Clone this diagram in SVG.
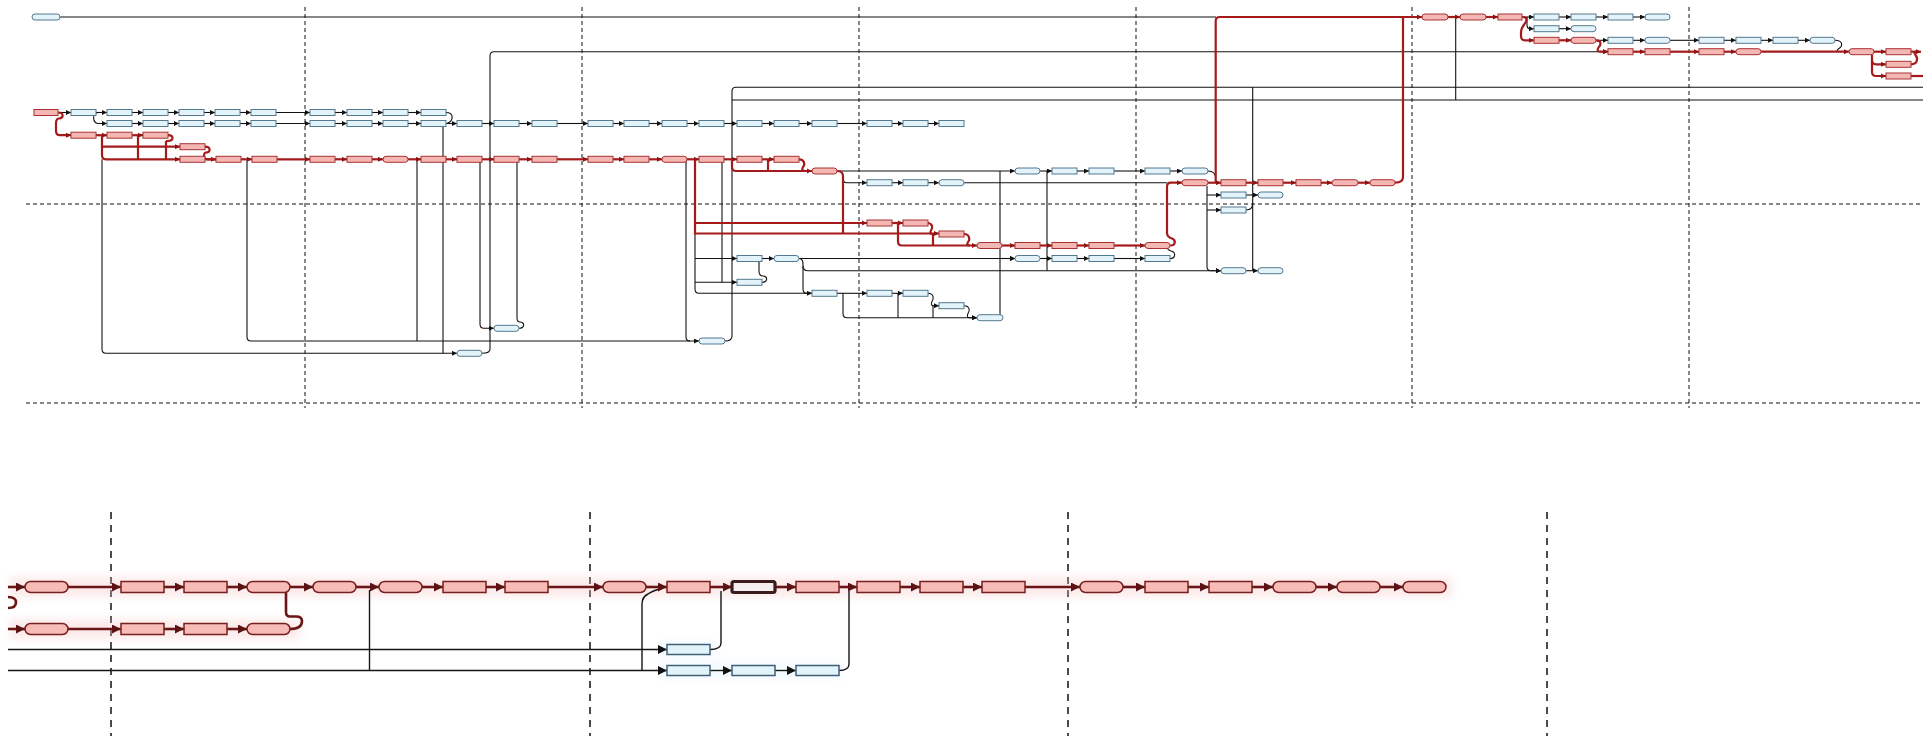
<svg xmlns="http://www.w3.org/2000/svg" width="1923" height="736" viewBox="0 0 1923 736">
<style>
.b{fill:#e2f3fa;stroke:#55798f;stroke-width:1}
.r{fill:#f5b7b3;stroke:#a83232;stroke-width:1}
.lb{fill:#e2f3fa;stroke:#3f6078;stroke-width:1.5}
.lr{fill:#f7bcb8;stroke:#7a1f1f;stroke-width:1.5}
.hl{fill:#f4eeee;stroke:#3a1c1c;stroke-width:3.2}
.k{fill:none;stroke:#111;stroke-width:1.1}
.rd{fill:none;stroke:#a51b1b;stroke-width:2.2}
.ka{marker-end:url(#ak)}
.ra{marker-end:url(#ar)}
.lk{fill:none;stroke:#151515;stroke-width:1.4}
.lrd{fill:none;stroke:#6a1616;stroke-width:2.6}
.lka{marker-end:url(#lak)}
.lra{marker-end:url(#lar)}
.g1{fill:none;stroke:#111;stroke-width:1;stroke-dasharray:4 3}
.g2{fill:none;stroke:#111;stroke-width:1.5;stroke-dasharray:7 6}
</style>
<defs>
<marker id="ak" viewBox="0 0 10 10" refX="10" refY="5" markerWidth="5" markerHeight="5" markerUnits="userSpaceOnUse" orient="auto"><path d="M0,0L10,5L0,10z" fill="#111"/></marker>
<marker id="ar" viewBox="0 0 10 10" refX="10" refY="5" markerWidth="5.5" markerHeight="5.5" markerUnits="userSpaceOnUse" orient="auto"><path d="M0,0L10,5L0,10z" fill="#8e1414"/></marker>
<marker id="lak" viewBox="0 0 10 10" refX="10" refY="5" markerWidth="9" markerHeight="9" markerUnits="userSpaceOnUse" orient="auto"><path d="M0,0L10,5L0,10z" fill="#111"/></marker>
<marker id="lar" viewBox="0 0 10 10" refX="10" refY="5" markerWidth="9" markerHeight="9" markerUnits="userSpaceOnUse" orient="auto"><path d="M0,0L10,5L0,10z" fill="#5a1212"/></marker>
<filter id="glow" x="-5%" y="-100%" width="110%" height="300%"><feGaussianBlur stdDeviation="4"/></filter>
</defs>
<rect width="1923" height="736" fill="#fff"/>
<g id="grid">
<path class="g1" d="M305,7V408M582,7V408M859,7V408M1136,7V408M1412,7V408M1689,7V408"/>
<path class="g1" d="M26,204H1923M26,403H1923" stroke-dasharray="5 3"/>
<path class="g2" d="M111,512V736M590,512V736M1068,512V736M1547,512V736"/>
</g>
<g id="glowband" filter="url(#glow)" opacity="0.35">
<path d="M10,587H1452M10,629H300" stroke="#f7c2c2" stroke-width="20" fill="none"/>
<path d="M660,649.5H716M660,670.5H842" stroke="#dcefff" stroke-width="16" fill="none"/>
</g>
<g id="connectors">
<path class="k" d="M60,17H1216"/>
<path class="k ka" d="M58,112.5H71"/>
<path class="k ka" d="M96,112.5H107"/><path class="k ka" d="M132,112.5H143"/><path class="k ka" d="M168,112.5H179"/><path class="k ka" d="M204,112.5H215"/><path class="k ka" d="M240,112.5H251"/><path class="k ka" d="M276,112.5H310"/><path class="k ka" d="M335,112.5H347"/><path class="k ka" d="M372,112.5H383"/><path class="k ka" d="M408,112.5H421"/>
<path class="k" d="M446,112.5C454,112.5 454,121 447,123.5"/>
<path class="k ka" d="M98,112.5C92,113 92,123.5 99,123.5H107"/>
<path class="k ka" d="M132,123.5H143"/><path class="k ka" d="M168,123.5H179"/><path class="k ka" d="M204,123.5H215"/><path class="k ka" d="M240,123.5H251"/><path class="k ka" d="M276,123.5H310"/><path class="k ka" d="M335,123.5H347"/><path class="k ka" d="M372,123.5H383"/><path class="k ka" d="M408,123.5H421"/><path class="k ka" d="M446,123.5H457"/><path class="k ka" d="M482,123.5H494"/><path class="k ka" d="M519,123.5H532"/><path class="k ka" d="M557,123.5H588"/><path class="k ka" d="M613,123.5H624"/><path class="k ka" d="M649,123.5H662"/><path class="k ka" d="M687,123.5H699"/><path class="k ka" d="M724,123.5H737"/><path class="k ka" d="M762,123.5H774"/><path class="k ka" d="M799,123.5H812"/><path class="k ka" d="M837,123.5H867"/><path class="k ka" d="M892,123.5H903"/><path class="k ka" d="M928,123.5H939"/>
<path class="k ka" d="M102,159.3V349Q102,353.3 106,353.3H457"/>
<path class="k ka" d="M247,159.3V337Q247,341 251,341H699"/>
<path class="k" d="M417,159.3V341"/>
<path class="k" d="M443,123.5V353.3"/>
<path class="k ka" d="M480,159.3V324Q480,328.3 484,328.3H494"/>
<path class="k" d="M519,328.3C525,328.3 525,322 520,322Q517,322 517,318V159.3"/>
<path class="k ka" d="M482,353.3Q490,353.3 490,349V56Q490,51.7 494,51.7H1608"/>
<path class="k" d="M686,159.3V337Q686,341 690,341"/>
<path class="k ka" d="M695,233.5V289Q695,293.3 699,293.3H812"/>
<path class="k ka" d="M695,258.5H737"/>
<path class="k ka" d="M695,282.3H737"/>
<path class="k" d="M722,159.3V282.3"/>
<path class="k" d="M762,282.3C768,282.3 768,276 763,276Q759,276 759,271V261.5"/>
<path class="k ka" d="M762,258.5H774"/>
<path class="k ka" d="M799,258.5H1015"/>
<path class="k ka" d="M799,258.5C803,258.5 803,262 803,266Q803,270.7 808,270.7H1221"/>
<path class="k" d="M803,266V289Q803,293.3 807,293.3H812"/>
<path class="k" d="M725,341Q732,341 732,336V91.3Q732,87.3 736,87.3H1923"/>
<path class="k" d="M732,100H1923"/>
<path class="k ka" d="M837,171H1015"/>
<path class="k ka" d="M1040,171H1052"/><path class="k ka" d="M1077,171H1089"/><path class="k ka" d="M1114,171H1145"/><path class="k ka" d="M1170,171H1182"/>
<path class="k" d="M1208,171C1213,171 1215.7,174 1215.7,179"/>
<path class="k ka" d="M843,176V178.7Q843,182.7 847,182.7H867"/>
<path class="k ka" d="M892,182.7H903"/><path class="k ka" d="M928,182.7H939"/>
<path class="k" d="M964,182.7H1167"/>
<path class="k" d="M1000,171V313Q1000,317.7 1003,317.7"/>
<path class="k" d="M1047,171V270.7"/>
<path class="k ka" d="M1000,258.5H1015"/>
<path class="k ka" d="M1040,258.5H1052"/><path class="k ka" d="M1077,258.5H1089"/><path class="k ka" d="M1114,258.5H1145"/>
<path class="k" d="M1170,258.5C1176,258.5 1176,252 1171,251Q1167,250 1167,246"/>
<path class="k ka" d="M1207,186V266.7Q1207,270.7 1211,270.7H1221"/>
<path class="k ka" d="M1207,195H1221"/><path class="k ka" d="M1207,210H1221"/>
<path class="k" d="M1252.7,87.3V270.7"/>
<path class="k ka" d="M1246,195H1258"/><path class="k ka" d="M1246,270.7H1258"/>
<path class="k" d="M1246,210C1251,210 1252.7,207 1252.7,203"/>
<path class="k" d="M1455.7,17V100"/>
<path class="k ka" d="M1522,17H1534"/><path class="k ka" d="M1559,17H1571"/><path class="k ka" d="M1596,17H1608"/><path class="k ka" d="M1633,17H1645"/>
<path class="k ka" d="M1527,17V24.7Q1527,28.7 1530,28.7H1534"/><path class="k ka" d="M1559,28.7H1571"/>
<path class="k ka" d="M1596,40.3H1608"/><path class="k ka" d="M1633,40.3H1645"/><path class="k ka" d="M1670,40.3H1699"/><path class="k ka" d="M1724,40.3H1736"/><path class="k ka" d="M1761,40.3H1773"/><path class="k ka" d="M1798,40.3H1810"/>
<path class="k" d="M1835,40.3C1843,40.3 1843,46 1839,48.5Q1836,50.5 1838,51.7"/>
<path class="k ka" d="M837,293.3H867"/><path class="k ka" d="M892,293.3H903"/>
<path class="k ka" d="M843,293.3V313.7Q843,317.7 847,317.7H977"/>
<path class="k" d="M898,293.3V317.7"/><path class="k" d="M933,305.7V317.7"/>
<path class="k ka" d="M928,293.3C934,293.3 934,299 932,301.5Q930,305.7 934,305.7H939"/>
<path class="k ka" d="M964,305.7C970,305.7 970,311 968,313.5Q966,317.7 970,317.7H977"/>
<path class="rd ra" d="M58,112.5C64,112.5 64,118 59,118.5Q56,119 56,123V131Q56,135.2 60,135.2H71"/>
<path class="rd ra" d="M96,135.2H107"/><path class="rd ra" d="M132,135.2H143"/>
<path class="rd ra" d="M102,135.2V155.3Q102,159.3 106,159.3H180"/>
<path class="rd ra" d="M102,146.7H180"/>
<path class="rd" d="M138,135.2V159.3M166,141V159.3"/>
<path class="rd" d="M168,135.2C174,135.2 174,141 168,141H166"/>
<path class="rd ra" d="M205,146.7C211,146.7 211,152.5 206,152.5Q204,152.5 204,156Q204,159.3 208,159.3H216"/>
<path class="rd" d="M205,159.3H216"/>
<path class="rd ra" d="M241,159.3H252"/><path class="rd ra" d="M277,159.3H310"/><path class="rd ra" d="M335,159.3H347"/><path class="rd ra" d="M372,159.3H383"/><path class="rd ra" d="M408,159.3H421"/><path class="rd ra" d="M446,159.3H457"/><path class="rd ra" d="M482,159.3H494"/><path class="rd ra" d="M519,159.3H532"/><path class="rd ra" d="M557,159.3H588"/><path class="rd ra" d="M613,159.3H624"/><path class="rd ra" d="M649,159.3H662"/><path class="rd ra" d="M687,159.3H699"/><path class="rd ra" d="M724,159.3H737"/><path class="rd ra" d="M762,159.3H774"/>
<path class="rd ra" d="M732,159.3V167Q732,171 736,171H812"/>
<path class="rd" d="M768,159.3V171"/>
<path class="rd" d="M799,159.3C805,159.3 805,165 803,167Q801,171 805,171"/>
<path class="rd ra" d="M695,159.3V233.5H939"/>
<path class="rd ra" d="M695,223H867"/><path class="rd ra" d="M892,223H903"/>
<path class="rd" d="M837,171Q843,171 843,176V233.5"/>
<path class="rd ra" d="M898,223V241.5Q898,245.5 902,245.5H977"/>
<path class="rd" d="M927,223C933,223 933,228 931,230.5Q929,234 933,234V245.5"/>
<path class="rd" d="M964,234C970,234 970,240 968,242Q966,245.5 970,245.5"/>
<path class="rd ra" d="M1002,245.5H1015"/><path class="rd ra" d="M1040,245.5H1052"/><path class="rd ra" d="M1077,245.5H1089"/><path class="rd ra" d="M1114,245.5H1145"/>
<path class="rd ra" d="M1170,245.5C1176,245.5 1176,240 1172,238.5Q1167,237 1167,233V187Q1167,182.7 1171,182.7H1182"/>
<path class="rd ra" d="M1208,182.7H1221"/><path class="rd ra" d="M1246,182.7H1258"/><path class="rd ra" d="M1283,182.7H1296"/><path class="rd ra" d="M1321,182.7H1332"/><path class="rd ra" d="M1358,182.7H1370"/>
<path class="rd ra" d="M1215.7,182.7V21Q1215.7,17 1219.7,17H1422"/>
<path class="rd" d="M1395,182.7Q1403,182.7 1403,177V17"/>
<path class="rd ra" d="M1448,17H1460"/><path class="rd ra" d="M1486,17H1498"/>
<path class="rd ra" d="M1522,17C1528,17 1527,21 1524.5,24Q1521,28 1521,33V36.3Q1521,40.3 1525,40.3H1534"/>
<path class="rd ra" d="M1559,40.3H1571"/>
<path class="rd ra" d="M1596,40.3C1602,40.3 1601,45 1598.5,47.5Q1596,51.7 1600,51.7H1608"/>
<path class="rd ra" d="M1633,51.7H1645"/><path class="rd ra" d="M1670,51.7H1699"/><path class="rd ra" d="M1724,51.7H1736"/><path class="rd ra" d="M1761,51.7H1849"/><path class="rd ra" d="M1874,51.7H1886"/><path class="rd ra" d="M1911,51.7H1921"/>
<path class="rd ra" d="M1872,54.7V60.3Q1872,64.3 1876,64.3H1886"/>
<path class="rd ra" d="M1872,60V72Q1872,76 1876,76H1886"/>
<path class="rd" d="M1911,64.3C1918,64.3 1918,58 1915.5,55Q1913,51.7 1916,51.7"/>
<path class="rd" d="M1911,76H1923"/>
<path class="lk lka" d="M8,649.5H667"/>
<path class="lk lka" d="M8,670.5H667"/>
<path class="lk" d="M369.5,590V670.5"/>
<path class="lk" d="M642,670.5V604Q642,597 648,594Q652,591 660,589"/>
<path class="lk lka" d="M710,670.5H732"/><path class="lk lka" d="M775,670.5H796"/>
<path class="lk" d="M710,649.5Q721,649.5 721,643V591"/>
<path class="lk" d="M839,670.5Q849,670.5 849,664V591"/>
<path class="lrd lra" d="M8,587H25"/><path class="lrd lra" d="M68,587H121"/><path class="lrd lra" d="M164,587H184"/><path class="lrd lra" d="M227,587H247"/><path class="lrd lra" d="M290,587H313"/><path class="lrd lra" d="M356,587H379"/><path class="lrd lra" d="M422,587H443"/><path class="lrd lra" d="M486,587H505"/><path class="lrd lra" d="M548,587H603"/><path class="lrd lra" d="M646,587H667"/><path class="lrd lra" d="M710,587H732"/><path class="lrd lra" d="M775,587H796"/><path class="lrd lra" d="M839,587H857"/><path class="lrd lra" d="M900,587H920"/><path class="lrd lra" d="M963,587H982"/><path class="lrd lra" d="M1025,587H1080"/><path class="lrd lra" d="M1123,587H1145"/><path class="lrd lra" d="M1188,587H1209"/><path class="lrd lra" d="M1252,587H1273"/><path class="lrd lra" d="M1316,587H1337"/><path class="lrd lra" d="M1380,587H1403"/>
<path class="lrd lra" d="M8,629H25"/><path class="lrd lra" d="M68,629H121"/><path class="lrd lra" d="M164,629H184"/><path class="lrd lra" d="M227,629H247"/>
<path class="lrd" d="M290,629C299,629 302,626 302,621Q302,616.5 296,616.5H290Q286,616.5 286,612V591"/>
<path class="lrd" d="M8,597C15,597 16,600 16,602.5C16,606 14,608 8,608"/>
</g>
<g id="n0"><rect class="b" x="32" y="14" width="28" height="6" rx="3"/></g>
<g id="s0"><rect class="r" x="34" y="109.5" width="24" height="6"/></g>
<g id="a1"><rect class="b" x="71" y="109.5" width="25" height="6"/></g>
<g id="a2"><rect class="b" x="107" y="109.5" width="25" height="6"/></g>
<g id="a3"><rect class="b" x="143" y="109.5" width="25" height="6"/></g>
<g id="a4"><rect class="b" x="179" y="109.5" width="25" height="6"/></g>
<g id="a5"><rect class="b" x="215" y="109.5" width="25" height="6"/></g>
<g id="a6"><rect class="b" x="251" y="109.5" width="25" height="6"/></g>
<g id="a7"><rect class="b" x="310" y="109.5" width="25" height="6"/></g>
<g id="a8"><rect class="b" x="347" y="109.5" width="25" height="6"/></g>
<g id="a9"><rect class="b" x="383" y="109.5" width="25" height="6"/></g>
<g id="a10"><rect class="b" x="421" y="109.5" width="25" height="6"/></g>
<g id="b1"><rect class="b" x="107" y="120.5" width="25" height="6"/></g>
<g id="b2"><rect class="b" x="143" y="120.5" width="25" height="6"/></g>
<g id="b3"><rect class="b" x="179" y="120.5" width="25" height="6"/></g>
<g id="b4"><rect class="b" x="215" y="120.5" width="25" height="6"/></g>
<g id="b5"><rect class="b" x="251" y="120.5" width="25" height="6"/></g>
<g id="b6"><rect class="b" x="310" y="120.5" width="25" height="6"/></g>
<g id="b7"><rect class="b" x="347" y="120.5" width="25" height="6"/></g>
<g id="b8"><rect class="b" x="383" y="120.5" width="25" height="6"/></g>
<g id="b9"><rect class="b" x="421" y="120.5" width="25" height="6"/></g>
<g id="b10"><rect class="b" x="457" y="120.5" width="25" height="6"/></g>
<g id="b11"><rect class="b" x="494" y="120.5" width="25" height="6"/></g>
<g id="b12"><rect class="b" x="532" y="120.5" width="25" height="6"/></g>
<g id="b13"><rect class="b" x="588" y="120.5" width="25" height="6"/></g>
<g id="b14"><rect class="b" x="624" y="120.5" width="25" height="6"/></g>
<g id="b15"><rect class="b" x="662" y="120.5" width="25" height="6"/></g>
<g id="b16"><rect class="b" x="699" y="120.5" width="25" height="6"/></g>
<g id="b17"><rect class="b" x="737" y="120.5" width="25" height="6"/></g>
<g id="b18"><rect class="b" x="774" y="120.5" width="25" height="6"/></g>
<g id="b19"><rect class="b" x="812" y="120.5" width="25" height="6"/></g>
<g id="b20"><rect class="b" x="867" y="120.5" width="25" height="6"/></g>
<g id="b21"><rect class="b" x="903" y="120.5" width="25" height="6"/></g>
<g id="b22"><rect class="b" x="939" y="120.5" width="25" height="6"/></g>
<g id="c1"><rect class="r" x="71" y="132.2" width="25" height="6"/></g>
<g id="c2"><rect class="r" x="107" y="132.2" width="25" height="6"/></g>
<g id="c3"><rect class="r" x="143" y="132.2" width="25" height="6"/></g>
<g id="d1"><rect class="r" x="180" y="143.7" width="25" height="6"/></g>
<g id="e1"><rect class="r" x="180" y="156.3" width="25" height="6"/></g>
<g id="e2"><rect class="r" x="216" y="156.3" width="25" height="6"/></g>
<g id="e3"><rect class="r" x="252" y="156.3" width="25" height="6"/></g>
<g id="e4"><rect class="r" x="310" y="156.3" width="25" height="6"/></g>
<g id="e5"><rect class="r" x="347" y="156.3" width="25" height="6"/></g>
<g id="e6"><rect class="r" x="383" y="156.3" width="25" height="6" rx="3"/></g>
<g id="e7"><rect class="r" x="421" y="156.3" width="25" height="6"/></g>
<g id="e8"><rect class="r" x="457" y="156.3" width="25" height="6"/></g>
<g id="e9"><rect class="r" x="494" y="156.3" width="25" height="6"/></g>
<g id="e10"><rect class="r" x="532" y="156.3" width="25" height="6"/></g>
<g id="e11"><rect class="r" x="588" y="156.3" width="25" height="6"/></g>
<g id="e12"><rect class="r" x="624" y="156.3" width="25" height="6"/></g>
<g id="e13"><rect class="r" x="662" y="156.3" width="25" height="6" rx="3"/></g>
<g id="e14"><rect class="r" x="699" y="156.3" width="25" height="6"/></g>
<g id="e15"><rect class="r" x="737" y="156.3" width="25" height="6"/></g>
<g id="e16"><rect class="r" x="774" y="156.3" width="25" height="6"/></g>
<g id="f1"><rect class="r" x="812" y="168" width="25" height="6" rx="3"/></g>
<g id="g1"><rect class="b" x="1015" y="168" width="25" height="6" rx="3"/></g>
<g id="g2"><rect class="b" x="1052" y="168" width="25" height="6"/></g>
<g id="g3"><rect class="b" x="1089" y="168" width="25" height="6"/></g>
<g id="g4"><rect class="b" x="1145" y="168" width="25" height="6"/></g>
<g id="g5"><rect class="b" x="1182" y="168" width="26" height="6" rx="3"/></g>
<g id="h1"><rect class="b" x="867" y="179.7" width="25" height="6"/></g>
<g id="h2"><rect class="b" x="903" y="179.7" width="25" height="6"/></g>
<g id="h3"><rect class="b" x="939" y="179.7" width="25" height="6" rx="3"/></g>
<g id="i1"><rect class="r" x="1182" y="179.7" width="26" height="6" rx="3"/></g>
<g id="i2"><rect class="r" x="1221" y="179.7" width="25" height="6"/></g>
<g id="i3"><rect class="r" x="1258" y="179.7" width="25" height="6"/></g>
<g id="i4"><rect class="r" x="1296" y="179.7" width="25" height="6"/></g>
<g id="i5"><rect class="r" x="1332" y="179.7" width="26" height="6" rx="3"/></g>
<g id="i6"><rect class="r" x="1370" y="179.7" width="25" height="6" rx="3"/></g>
<g id="j1"><rect class="b" x="1221" y="192" width="25" height="6"/></g>
<g id="j2"><rect class="b" x="1258" y="192" width="25" height="6" rx="3"/></g>
<g id="j3"><rect class="b" x="1221" y="207" width="25" height="6"/></g>
<g id="k1"><rect class="r" x="867" y="220" width="25" height="6"/></g>
<g id="k2"><rect class="r" x="903" y="220" width="25" height="6"/></g>
<g id="k3"><rect class="r" x="939" y="231" width="25" height="6"/></g>
<g id="m1"><rect class="r" x="977" y="242.5" width="25" height="6" rx="3"/></g>
<g id="m2"><rect class="r" x="1015" y="242.5" width="25" height="6"/></g>
<g id="m3"><rect class="r" x="1052" y="242.5" width="25" height="6"/></g>
<g id="m4"><rect class="r" x="1089" y="242.5" width="25" height="6"/></g>
<g id="m5"><rect class="r" x="1145" y="242.5" width="25" height="6" rx="3"/></g>
<g id="p1"><rect class="b" x="737" y="255.5" width="25" height="6"/></g>
<g id="p2"><rect class="b" x="774" y="255.5" width="25" height="6" rx="3"/></g>
<g id="p3"><rect class="b" x="1015" y="255.5" width="25" height="6" rx="3"/></g>
<g id="p4"><rect class="b" x="1052" y="255.5" width="25" height="6"/></g>
<g id="p5"><rect class="b" x="1089" y="255.5" width="25" height="6"/></g>
<g id="p6"><rect class="b" x="1145" y="255.5" width="25" height="6"/></g>
<g id="q1"><rect class="b" x="1221" y="267.7" width="25" height="6" rx="3"/></g>
<g id="q2"><rect class="b" x="1258" y="267.7" width="25" height="6" rx="3"/></g>
<g id="u1"><rect class="b" x="737" y="279.3" width="25" height="6"/></g>
<g id="v1"><rect class="b" x="812" y="290.3" width="25" height="6"/></g>
<g id="v2"><rect class="b" x="867" y="290.3" width="25" height="6"/></g>
<g id="v3"><rect class="b" x="903" y="290.3" width="25" height="6"/></g>
<g id="w1"><rect class="b" x="939" y="302.7" width="25" height="6"/></g>
<g id="w2"><rect class="b" x="977" y="314.7" width="26" height="6" rx="3"/></g>
<g id="x1"><rect class="b" x="494" y="325.3" width="25" height="6" rx="3"/></g>
<g id="x2"><rect class="b" x="699" y="338" width="26" height="6" rx="3"/></g>
<g id="x3"><rect class="b" x="457" y="350.3" width="25" height="6" rx="3"/></g>
<g id="t1"><rect class="r" x="1422" y="14" width="26" height="6" rx="3"/></g>
<g id="t2"><rect class="r" x="1460" y="14" width="26" height="6" rx="3"/></g>
<g id="t3"><rect class="r" x="1498" y="14" width="24" height="6"/></g>
<g id="t4"><rect class="b" x="1534" y="14" width="25" height="6"/></g>
<g id="t5"><rect class="b" x="1571" y="14" width="25" height="6"/></g>
<g id="t6"><rect class="b" x="1608" y="14" width="25" height="6"/></g>
<g id="t7"><rect class="b" x="1645" y="14" width="25" height="6" rx="3"/></g>
<g id="t8"><rect class="b" x="1534" y="25.7" width="25" height="6"/></g>
<g id="t9"><rect class="b" x="1571" y="25.7" width="25" height="6" rx="3"/></g>
<g id="t10"><rect class="r" x="1534" y="37.3" width="25" height="6"/></g>
<g id="t11"><rect class="r" x="1571" y="37.3" width="25" height="6" rx="3"/></g>
<g id="t12"><rect class="b" x="1608" y="37.3" width="25" height="6"/></g>
<g id="t13"><rect class="b" x="1645" y="37.3" width="25" height="6" rx="3"/></g>
<g id="t14"><rect class="b" x="1699" y="37.3" width="25" height="6"/></g>
<g id="t15"><rect class="b" x="1736" y="37.3" width="25" height="6"/></g>
<g id="t16"><rect class="b" x="1773" y="37.3" width="25" height="6"/></g>
<g id="t17"><rect class="b" x="1810" y="37.3" width="25" height="6" rx="3"/></g>
<g id="t18"><rect class="r" x="1608" y="48.7" width="25" height="6"/></g>
<g id="t19"><rect class="r" x="1645" y="48.7" width="25" height="6"/></g>
<g id="t20"><rect class="r" x="1699" y="48.7" width="25" height="6"/></g>
<g id="t21"><rect class="r" x="1736" y="48.7" width="25" height="6" rx="3"/></g>
<g id="t22"><rect class="r" x="1849" y="48.7" width="25" height="6" rx="3"/></g>
<g id="t23"><rect class="r" x="1886" y="48.7" width="25" height="6"/></g>
<g id="t24"><rect class="r" x="1886" y="61.3" width="25" height="6"/></g>
<g id="t25"><rect class="r" x="1886" y="73" width="25" height="6"/></g>
<g id="l1"><rect class="lr" x="25" y="581.5" width="43" height="11" rx="5.5"/></g>
<g id="l2"><rect class="lr" x="121" y="581.5" width="43" height="11"/></g>
<g id="l3"><rect class="lr" x="184" y="581.5" width="43" height="11"/></g>
<g id="l4"><rect class="lr" x="247" y="581.5" width="43" height="11" rx="5.5"/></g>
<g id="l5"><rect class="lr" x="313" y="581.5" width="43" height="11" rx="5.5"/></g>
<g id="l6"><rect class="lr" x="379" y="581.5" width="43" height="11" rx="5.5"/></g>
<g id="l7"><rect class="lr" x="443" y="581.5" width="43" height="11"/></g>
<g id="l8"><rect class="lr" x="505" y="581.5" width="43" height="11"/></g>
<g id="l9"><rect class="lr" x="603" y="581.5" width="43" height="11" rx="5.5"/></g>
<g id="l10"><rect class="lr" x="667" y="581.5" width="43" height="11"/></g>
<g id="l11"><rect class="hl" x="732" y="581.5" width="43" height="11" rx="2"/></g>
<g id="l12"><rect class="lr" x="796" y="581.5" width="43" height="11"/></g>
<g id="l13"><rect class="lr" x="857" y="581.5" width="43" height="11"/></g>
<g id="l14"><rect class="lr" x="920" y="581.5" width="43" height="11"/></g>
<g id="l15"><rect class="lr" x="982" y="581.5" width="43" height="11"/></g>
<g id="l16"><rect class="lr" x="1080" y="581.5" width="43" height="11" rx="5.5"/></g>
<g id="l17"><rect class="lr" x="1145" y="581.5" width="43" height="11"/></g>
<g id="l18"><rect class="lr" x="1209" y="581.5" width="43" height="11"/></g>
<g id="l19"><rect class="lr" x="1273" y="581.5" width="43" height="11" rx="5.5"/></g>
<g id="l20"><rect class="lr" x="1337" y="581.5" width="43" height="11" rx="5.5"/></g>
<g id="l21"><rect class="lr" x="1403" y="581.5" width="43" height="11" rx="5.5"/></g>
<g id="l22"><rect class="lr" x="25" y="623.5" width="43" height="11" rx="5.5"/></g>
<g id="l23"><rect class="lr" x="121" y="623.5" width="43" height="11"/></g>
<g id="l24"><rect class="lr" x="184" y="623.5" width="43" height="11"/></g>
<g id="l25"><rect class="lr" x="247" y="623.5" width="43" height="11" rx="5.5"/></g>
<g id="z1"><rect class="lb" x="667" y="644.5" width="43" height="10"/></g>
<g id="z2"><rect class="lb" x="667" y="665.5" width="43" height="10"/></g>
<g id="z3"><rect class="lb" x="732" y="665.5" width="43" height="10"/></g>
<g id="z4"><rect class="lb" x="796" y="665.5" width="43" height="10"/></g>
</svg>
